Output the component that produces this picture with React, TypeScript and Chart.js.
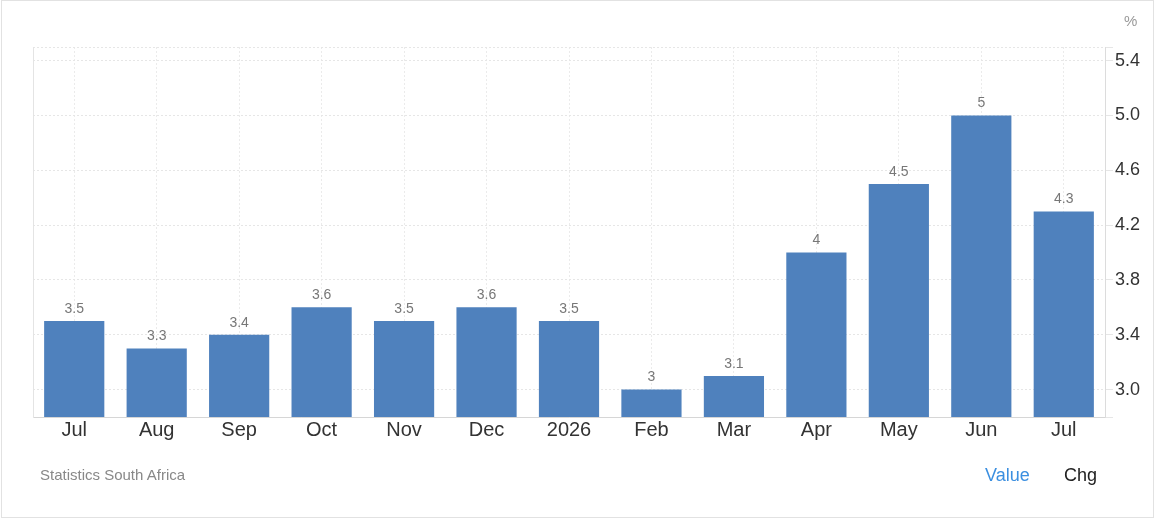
import React, { useEffect, useRef } from "react";
import { Chart, registerables } from "chart.js";

Chart.register(...registerables);

const categories = ["Jul", "Aug", "Sep", "Oct", "Nov", "Dec", "2026", "Feb", "Mar", "Apr", "May", "Jun", "Jul"];
const values = [3.5, 3.3, 3.4, 3.6, 3.5, 3.6, 3.5, 3, 3.1, 4, 4.5, 5, 4.3];
const yTicks = [2.8, 3.0, 3.4, 3.8, 4.2, 4.6, 5.0, 5.4, 5.5];
const yLabelled = [3.0, 3.4, 3.8, 4.2, 4.6, 5.0, 5.4];

const FONT = "'Liberation Sans', Arial, sans-serif";

const valueLabels = {
  id: "valueLabels",
  afterDatasetsDraw(chart: any) {
    const ctx = chart.ctx;
    const meta = chart.getDatasetMeta(0);
    ctx.save();
    ctx.font = `14px ${FONT}`;
    ctx.fillStyle = "#777";
    ctx.textAlign = "center";
    ctx.textBaseline = "bottom";
    meta.data.forEach((bar: any, i: number) => {
      ctx.fillText(String(values[i]), bar.x, bar.y - 5);
    });
    ctx.restore();
  },
};

export default function App() {
  const ref = useRef<HTMLCanvasElement>(null);
  useEffect(() => {
    document.body.style.margin = "0";
    const chart = new Chart(ref.current!, {
      type: "bar",
      data: {
        labels: categories,
        datasets: [
          {
            data: values,
            backgroundColor: "#4f81bd",
            borderWidth: 0,
            barPercentage: 0.73,
            categoryPercentage: 1,
          },
        ],
      },
      options: {
        animation: false,
        responsive: false,
        devicePixelRatio: 1,
        layout: { padding: { left: 33, top: 47, right: 0, bottom: 0 } },
        plugins: { legend: { display: false }, tooltip: { enabled: false } },
        scales: {
          x: {
            offset: true,
            grid: { offset: false, color: "#ebebeb", drawTicks: false, lineWidth: 1 },
            border: { display: true, color: "#d6d6d6", dash: [2, 2] },
            ticks: { color: "#333", font: { size: 20, family: FONT }, padding: 1, maxRotation: 0, autoSkip: false },
            afterFit: (s: any) => { s.height = 103; },
          },
          y: {
            position: "right",
            min: 2.8,
            max: 5.5,
            afterBuildTicks: (s: any) => { s.ticks = yTicks.map((v) => ({ value: v })); },
            grid: { color: "#e6e6e6", tickLength: 8, drawTicks: true },
            border: { display: true, color: "#dcdcdc", dash: [2, 2] },
            ticks: {
              color: "#333",
              font: { size: 18, family: FONT },
              padding: 2,
              callback: (v: any) => (yLabelled.some((t) => Math.abs(t - v) < 1e-6) ? Number(v).toFixed(1) : ""),
            },
            afterFit: (s: any) => { s.width = 52; },
          },
          yl: {
            position: "left",
            min: 2.8,
            max: 5.5,
            grid: { display: false },
            border: { display: true, color: "#e4e4e4" },
            ticks: { display: false },
            afterFit: (s: any) => { s.width = 0; },
          },
        },
      },
      plugins: [valueLabels],
    });
    return () => chart.destroy();
  }, []);

  return (
    <div style={{ position: "absolute", left: 0, top: 0, width: 1157, height: 520, fontFamily: FONT, background: "#fff" }}>
      <div style={{ position: "absolute", left: 1, top: 0, width: 1151, height: 516, border: "1px solid #e2e2e2" }} />
      <canvas ref={ref} width={1157} height={520} style={{ position: "absolute", left: 0, top: 0 }} />
      <div style={{ position: "absolute", left: 1124, top: 12, fontSize: 15, color: "#999" }}>%</div>
      <div style={{ position: "absolute", left: 40, top: 466, fontSize: 15, color: "#888" }}>Statistics South Africa</div>
      <div style={{ position: "absolute", left: 985, top: 465, fontSize: 18, color: "#3b8fe0" }}>Value</div>
      <div style={{ position: "absolute", left: 1064, top: 465, fontSize: 18, color: "#222" }}>Chg</div>
    </div>
  );
}
